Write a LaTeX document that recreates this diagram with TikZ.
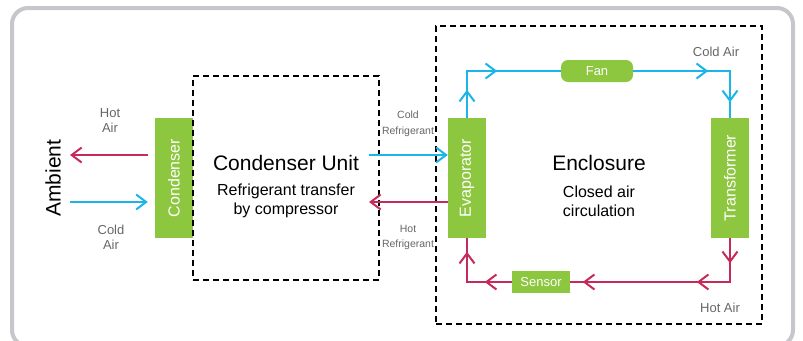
\documentclass[tikz,border=0pt]{standalone}
\usepackage{fontspec}
\setmainfont{Liberation Sans}
\usetikzlibrary{arrows.meta,decorations.markings}
\definecolor{cy}{HTML}{1CB5EA}
\definecolor{cr}{HTML}{C52A5B}
\definecolor{gr}{HTML}{8DC63F}
\definecolor{lbl}{HTML}{666666}
\definecolor{framec}{HTML}{C6C7CA}
\begin{document}
\begin{tikzpicture}[x=1pt,y=-1pt,
  >={Straight Barb[length=10pt,width=15pt]},
  gbox/.style={fill=gr, text=white, inner sep=0pt, font=\fontsize{16}{16}\selectfont},
  coldline/.style={draw=cy, line width=2pt, ->},
  hotline/.style={draw=cr, line width=2pt, ->},
  loopc/.style={draw=cy, line width=2pt},
  looph/.style={draw=cr, line width=2pt},
  am/.style={postaction={decorate,decoration={markings,mark=at position #1 with {\arrow{>}}}}},
  dashbox/.style={draw=black, line width=1.2pt, dash pattern=on 6pt off 4pt, inner sep=0pt},
  smalllbl/.style={text=lbl, font=\fontsize{13}{15}\selectfont, align=center, inner sep=0pt},
  tinylbl/.style={text=lbl, font=\fontsize{10.5}{15.5}\selectfont, align=center, inner sep=0pt},
  bigtxt/.style={font=\fontsize{21}{21}\selectfont, inner sep=0pt},
  desctxt/.style={font=\fontsize{16}{19}\selectfont, align=center, inner sep=0pt}
]
\useasboundingbox (0,0) rectangle (803,340);
\draw[line width=4pt, framec, rounded corners=16pt] (12,8) rectangle (793,346);

% green boxes
\node[gbox, minimum width=38pt, minimum height=120pt] (cond) at (174,178) {\rotatebox{90}{Condenser}};
\node[gbox, minimum width=38pt, minimum height=120pt] (evap) at (467,178) {\rotatebox{90}{Evaporator}};
\node[gbox, minimum width=38pt, minimum height=120pt] (trans) at (730,178) {\rotatebox{90}{Transformer}};
\node[gbox, rounded corners=7pt, minimum width=72pt, minimum height=22pt, font=\fontsize{13}{13}\selectfont] (fan) at (597,71) {Fan};
\node[gbox, minimum width=58pt, minimum height=22pt, font=\fontsize{13}{13}\selectfont] (sensor) at (541,282) {Sensor};

% dashed boxes
\node[dashbox, minimum width=186pt, minimum height=204pt] (cu) at (286,178) {};
\node[dashbox, minimum width=326pt, minimum height=298pt] (enc) at (599,175) {};

% texts
\node[bigtxt, rotate=90] (amb) at (53,178) {Ambient};
\node[smalllbl] (hotair) at (110,120.5) {Hot\\Air};
\node[smalllbl] (coldair) at (111,237.5) {Cold\\Air};
\node[tinylbl] (cref) at (408,124) {Cold\\Refrigerant};
\node[tinylbl] (href) at (408,237.5) {Hot\\Refrigerant};
\node[bigtxt] (cutitle) at (286,163) {Condenser Unit};
\node[desctxt] (cudesc) at (286,201) {Refrigerant transfer\\by compressor};
\node[bigtxt] (enctitle) at (599,163) {Enclosure};
\node[desctxt] (encdesc) at (599,201) {Closed air\\circulation};
\node[smalllbl] (cold2) at (716,52) {Cold Air};
\node[smalllbl] (hot2) at (720,308) {Hot Air};

% ambient arrows
\coordinate (hotend) at (70,155);
\coordinate (coldstart) at (70,202);
\draw[hotline, shorten <=7pt] (cond.west |- hotend) -- (hotend);
\draw[coldline, shorten >=7pt] (coldstart) -- (cond.west |- coldstart);

% refrigerant arrows
\coordinate (crs) at (369,155);
\coordinate (hre) at (369,202);
\draw[coldline] (crs) -- (evap.west |- crs);
\draw[hotline] (evap.west |- hre) -- (hre);

% air loop
\draw[loopc, am=28pt, am=77pt] (evap.north) -- (evap.north |- fan.west) -- (fan.west);
\draw[loopc, am=75pt, am=128pt] (fan.east) -- (trans.north |- fan.east) -- (trans.north);
\draw[looph, am=25pt, am=77pt, am=191pt] (trans.south) -- (trans.south |- sensor.east) -- (sensor.east);
\draw[looph, am=27pt, am=75pt] (sensor.west) -- (evap.south |- sensor.west) -- (evap.south);
\end{tikzpicture}
\end{document}
